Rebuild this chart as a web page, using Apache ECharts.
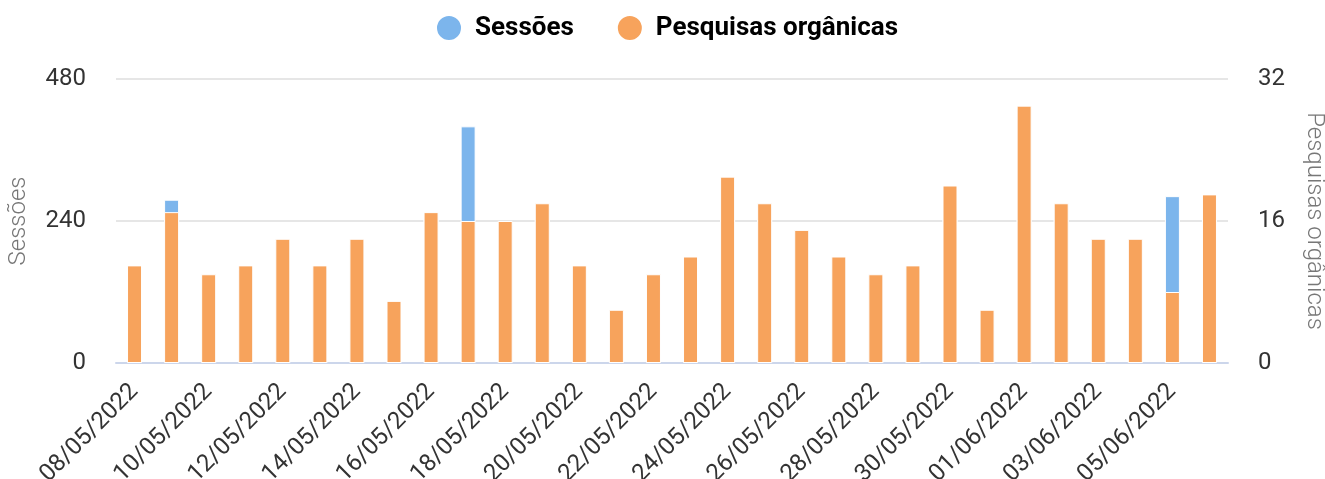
<!DOCTYPE html>
<html>
<head>
<meta charset="utf-8">
<script src="https://cdn.jsdelivr.net/npm/echarts@6/dist/echarts.min.js"></script>
<style>
html,body{margin:0;padding:0;background:#fff;}
#chart{width:1325px;height:479px;}
</style>
</head>
<body>
<div id="chart"></div>
<script>
const categories = [
  '08/05/2022','09/05/2022','10/05/2022','11/05/2022','12/05/2022','13/05/2022',
  '14/05/2022','15/05/2022','16/05/2022','17/05/2022','18/05/2022','19/05/2022',
  '20/05/2022','21/05/2022','22/05/2022','23/05/2022','24/05/2022','25/05/2022',
  '26/05/2022','27/05/2022','28/05/2022','29/05/2022','30/05/2022','31/05/2022',
  '01/06/2022','02/06/2022','03/06/2022','04/06/2022','05/06/2022','06/06/2022'
];
const sessoes = [160,276,145,158,205,160,200,100,250,400,232,262,163,88,146,176,310,265,220,178,148,162,295,86,430,268,206,208,282,280];
const pesquisas = [11,17,10,11,14,11,14,7,17,16,16,18,11,6,10,12,21,18,15,12,10,11,20,6,29,18,14,14,8,19];
const leftTicks = {min:0, max:480, interval:240};
const rightTicks = {min:0, max:32, interval:16};

const chart = echarts.init(document.getElementById('chart'));
chart.setOption({
  animation:false,
  textStyle:{fontFamily:'Roboto'},
  legend:{
    top:9, left:430,
    icon:'circle', itemWidth:26, itemHeight:26, itemGap:42,
    textStyle:{fontFamily:'Roboto', fontWeight:'bold', fontSize:26, color:'#000', padding:[0,0,0,8]},
    data:['Sessões','Pesquisas orgânicas']
  },
  grid:{left:116, right:97, top:79, bottom:116, containLabel:false, outerBoundsMode:'none'},
  xAxis:{
    type:'category', data:categories,
    axisLine:{lineStyle:{color:'#ccd6eb', width:2}},
    axisTick:{alignWithLabel:true, interval:1, length:18, lineStyle:{color:'#ccd6eb', width:2}},
    axisLabel:{interval:1, rotate:45, margin:25, fontSize:24, color:'#333', fontFamily:'Roboto'}
  },
  yAxis:[
    {type:'value', min:leftTicks.min, max:leftTicks.max, interval:leftTicks.interval,
     name:'Sessões', nameLocation:'middle', nameGap:85, nameRotate:90,
     nameTextStyle:{fontSize:24, color:'#777', fontWeight:300, fontFamily:'Roboto'},
     axisLabel:{fontSize:24, color:'#333', margin:30},
     splitLine:{lineStyle:{color:'#e6e6e6', width:2}},
     axisLine:{show:false}, axisTick:{show:false}},
    {type:'value', min:rightTicks.min, max:rightTicks.max, interval:rightTicks.interval,
     name:'Pesquisas orgânicas', nameLocation:'middle', nameGap:74, nameRotate:-90,
     nameTextStyle:{fontSize:24, color:'#777', fontWeight:300, fontFamily:'Roboto'},
     axisLabel:{fontSize:24, color:'#333', margin:30},
     splitLine:{show:false}, axisLine:{show:false}, axisTick:{show:false}}
  ],
  series:[
    {name:'Sessões', type:'bar', yAxisIndex:0, data:sessoes, barWidth:15, barGap:'-100%',
     itemStyle:{color:'#7cb5ec', borderColor:'#fff', borderWidth:1}},
    {name:'Pesquisas orgânicas', type:'bar', yAxisIndex:1, data:pesquisas, barWidth:15, barGap:'-100%',
     itemStyle:{color:'#f7a35c', borderColor:'#fff', borderWidth:1}}
  ]
});
</script>
</body>
</html>
